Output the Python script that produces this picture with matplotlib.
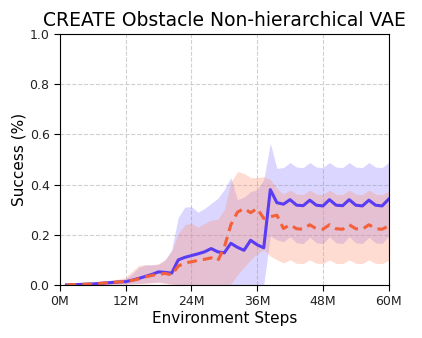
import numpy as np
import matplotlib
matplotlib.use("Agg")
import matplotlib.pyplot as plt

steps = np.arange(1, 51) * 1.2  # environment steps in millions

blue_mean = [0.000, 0.001, 0.002, 0.003, 0.004, 0.006, 0.008, 0.010, 0.012, 0.013,
             0.019, 0.026, 0.034, 0.042, 0.052, 0.050, 0.047, 0.100, 0.110, 0.117,
             0.124, 0.132, 0.145, 0.132, 0.128, 0.166, 0.150, 0.138, 0.178, 0.160,
             0.148, 0.380, 0.328, 0.322, 0.340, 0.318, 0.316, 0.338, 0.318, 0.315,
             0.340, 0.318, 0.316, 0.340, 0.318, 0.315, 0.338, 0.318, 0.315, 0.342]
blue_hi = [0.001, 0.002, 0.004, 0.006, 0.008, 0.010, 0.013, 0.016, 0.020, 0.025,
           0.045, 0.070, 0.080, 0.080, 0.082, 0.100, 0.140, 0.270, 0.310, 0.312,
           0.290, 0.305, 0.325, 0.345, 0.380, 0.428, 0.340, 0.350, 0.372, 0.380,
           0.420, 0.565, 0.465, 0.468, 0.488, 0.470, 0.468, 0.488, 0.470, 0.468,
           0.488, 0.470, 0.468, 0.488, 0.470, 0.468, 0.488, 0.470, 0.468, 0.488]
blue_lo = [0.000, 0.000, 0.000, 0.000, 0.000, 0.001, 0.002, 0.003, 0.004, 0.004,
           0.005, 0.006, 0.008, 0.010, 0.012, 0.008, 0.004, 0.000, 0.000, 0.000,
           0.000, 0.000, 0.000, 0.000, 0.000, 0.000, 0.000, 0.000, 0.000, 0.000,
           0.000, 0.195, 0.180, 0.172, 0.192, 0.168, 0.165, 0.190, 0.168, 0.165,
           0.192, 0.168, 0.165, 0.192, 0.168, 0.165, 0.190, 0.168, 0.165, 0.195]

orange_mean = [0.000, 0.001, 0.002, 0.003, 0.004, 0.006, 0.008, 0.010, 0.012, 0.014,
               0.018, 0.024, 0.032, 0.038, 0.042, 0.046, 0.040, 0.075, 0.088, 0.092,
               0.098, 0.102, 0.108, 0.096, 0.150, 0.240, 0.290, 0.305, 0.288, 0.305,
               0.265, 0.272, 0.278, 0.225, 0.240, 0.224, 0.222, 0.240, 0.224, 0.222,
               0.240, 0.224, 0.222, 0.240, 0.224, 0.222, 0.240, 0.224, 0.222, 0.235]
orange_hi = [0.002, 0.004, 0.006, 0.008, 0.010, 0.013, 0.016, 0.020, 0.024, 0.030,
             0.055, 0.078, 0.080, 0.080, 0.085, 0.100, 0.135, 0.205, 0.240, 0.246,
             0.230, 0.245, 0.259, 0.262, 0.300, 0.410, 0.452, 0.445, 0.428, 0.428,
             0.432, 0.420, 0.385, 0.362, 0.378, 0.362, 0.360, 0.378, 0.362, 0.360,
             0.378, 0.362, 0.360, 0.378, 0.362, 0.360, 0.378, 0.362, 0.360, 0.375]
orange_lo = [0.000, 0.000, 0.000, 0.000, 0.000, 0.000, 0.001, 0.002, 0.002, 0.003,
             0.004, 0.005, 0.006, 0.008, 0.010, 0.006, 0.002, 0.000, 0.000, 0.000,
             0.000, 0.000, 0.000, 0.000, 0.000, 0.005, 0.040, 0.070, 0.100, 0.125,
             0.140, 0.115, 0.100, 0.088, 0.100, 0.086, 0.085, 0.100, 0.086, 0.085,
             0.100, 0.086, 0.085, 0.100, 0.086, 0.085, 0.100, 0.086, 0.085, 0.098]

x_ticks = [0, 12, 24, 36, 48, 60]
x_tick_labels = ["0M", "12M", "24M", "36M", "48M", "60M"]

blue = "#5a3cf2"
orange = "#f4603a"

fig = plt.figure(figsize=(4.22, 3.38), dpi=100)
ax = fig.add_axes([0.142, 0.157, 0.779, 0.742])

ax.fill_between(steps, blue_lo, blue_hi, color="#8a78ff", alpha=0.3, linewidth=0)
ax.fill_between(steps, orange_lo, orange_hi, color="#ff8c6a", alpha=0.3, linewidth=0)
ax.plot(steps, blue_mean, color=blue, linewidth=2.2)
ax.plot(steps, orange_mean, color=orange, linewidth=2.2, linestyle="--", dashes=(3.2, 2))

ax.set_xlim(0, 60)
ax.set_ylim(0, 1.0)
ax.set_xticks(x_ticks)
ax.set_xticklabels(x_tick_labels)
ax.set_yticks(np.arange(0, 1.01, 0.2))
ax.tick_params(labelsize=9, length=4, labelcolor="#222222")
ax.grid(True, linestyle="--", color="#d0d0d0", linewidth=0.8)
ax.set_axisbelow(True)

ax.set_xlabel("Environment Steps", fontsize=11, labelpad=2)
ax.set_ylabel("Success (%)", fontsize=11, labelpad=2)
ax.set_title("CREATE Obstacle Non-hierarchical VAE", fontsize=13.5, pad=6)

fig.savefig("out.png", dpi=100)
